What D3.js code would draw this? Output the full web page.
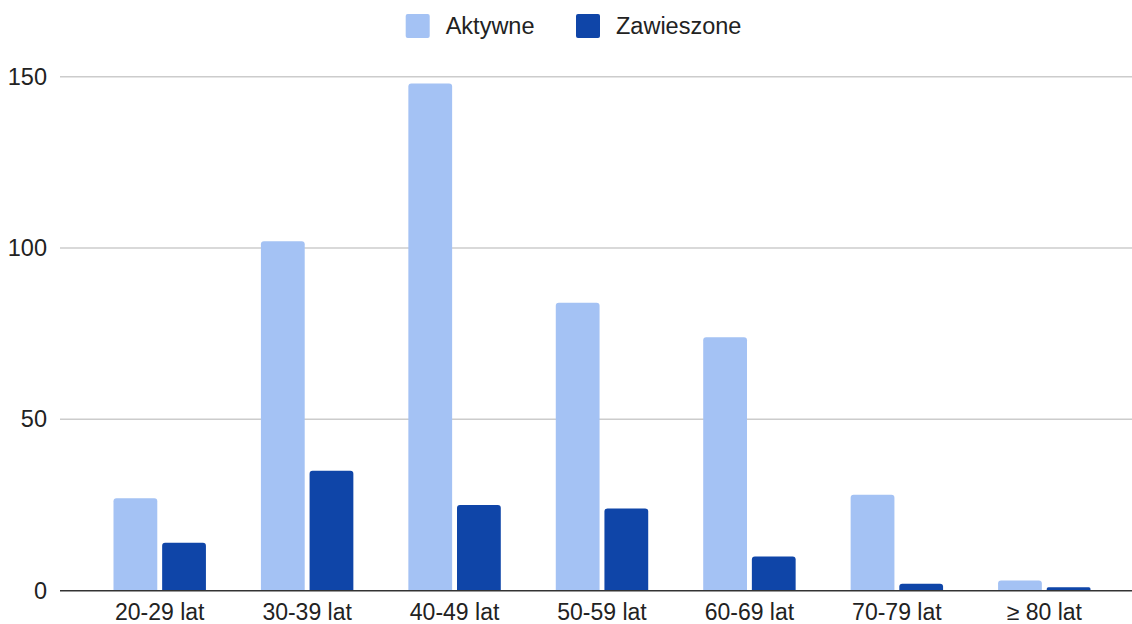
<!DOCTYPE html>
<html>
<head>
<meta charset="utf-8">
<script src="https://cdn.jsdelivr.net/npm/d3@7"></script>
<style>
  body { margin: 0; background: #fff; }
  svg { display: block; font-family: "Liberation Sans", Arial, sans-serif; }
</style>
</head>
<body>
<figure style="margin:0"></figure>
<script>
const categories = ["20-29 lat", "30-39 lat", "40-49 lat", "50-59 lat", "60-69 lat", "70-79 lat", "≥ 80 lat"]
const seriesNames = ["Aktywne", "Zawieszone"]
const aktywne = [27, 102, 148, 84, 74, 28, 3]
const zawieszone = [14, 35, 25, 24, 10, 2, 1]
const yTicks = [0, 50, 100, 150]

const colors = {Aktywne: "#a4c2f4", Zawieszone: "#0f45a8"}

const svg = d3.select("figure").append("svg").attr("width", 1132).attr("height", 624),
    x = d3.scaleBand().domain(categories).range([86, 1118]).paddingInner(0.373).paddingOuter(0.1865),
    xs = d3.scaleBand().domain(seriesNames).range([0, x.bandwidth()]).paddingInner(0.1),
    y = d3.scaleLinear().domain([0, 150]).range([590.7, 76.7])

const data = categories.map((c, i) => ({cat: c, values: [
    {name: "Aktywne", value: aktywne[i]},
    {name: "Zawieszone", value: zawieszone[i]}
]}))

// gridlines
svg.append("g").selectAll("line")
    .data(yTicks.filter(d => d > 0))
    .enter().append("line")
    .attr("x1", 60).attr("x2", 1132)
    .attr("y1", d => y(d)).attr("y2", d => y(d))
    .attr("stroke", "#cccccc").attr("stroke-width", 1.5)

// y labels
svg.append("g").selectAll("text")
    .data(yTicks)
    .enter().append("text")
    .text(d => d)
    .attr("x", 47)
    .attr("y", d => y(d))
    .attr("text-anchor", "end")
    .attr("dominant-baseline", "central")
    .attr("font-size", 23.5)
    .attr("fill", "#222")

// bars with rounded top corners
function barPath(x0, w, yTop, yBase) {
    const r = Math.min(3, (yBase - yTop) / 2, w / 2)
    return `M${x0},${yBase}V${yTop + r}Q${x0},${yTop} ${x0 + r},${yTop}H${x0 + w - r}Q${x0 + w},${yTop} ${x0 + w},${yTop + r}V${yBase}Z`
}

const groups = svg.append("g").selectAll("g")
    .data(data)
    .enter().append("g")
    .attr("transform", d => `translate(${x(d.cat)},0)`)

groups.selectAll("path")
    .data(d => d.values)
    .enter().append("path")
    .attr("d", d => barPath(xs(d.name), xs.bandwidth(), y(d.value), y(0)))
    .attr("fill", d => colors[d.name])

// baseline
svg.append("line")
    .attr("x1", 60).attr("x2", 1132)
    .attr("y1", y(0)).attr("y2", y(0))
    .attr("stroke", "#333").attr("stroke-width", 1.5)

// x labels
svg.append("g").selectAll("text")
    .data(categories)
    .enter().append("text")
    .text(d => d)
    .attr("x", d => x(d) + x.bandwidth() / 2)
    .attr("y", 612)
    .attr("text-anchor", "middle")
    .attr("dominant-baseline", "central")
    .attr("font-size", 23)
    .attr("fill", "#222")

// legend
const legendX = {Aktywne: 405.7, Zawieszone: 576}
const legend = svg.append("g").selectAll("g")
    .data(seriesNames)
    .enter().append("g")
    .attr("transform", d => `translate(${legendX[d]},14)`)
legend.append("rect")
    .attr("width", 24).attr("height", 24).attr("rx", 2)
    .attr("fill", d => colors[d])
legend.append("text")
    .text(d => d)
    .attr("x", 40).attr("y", 12)
    .attr("dominant-baseline", "central")
    .attr("font-size", 23.5)
    .attr("fill", "#222")
</script>
</body>
</html>
